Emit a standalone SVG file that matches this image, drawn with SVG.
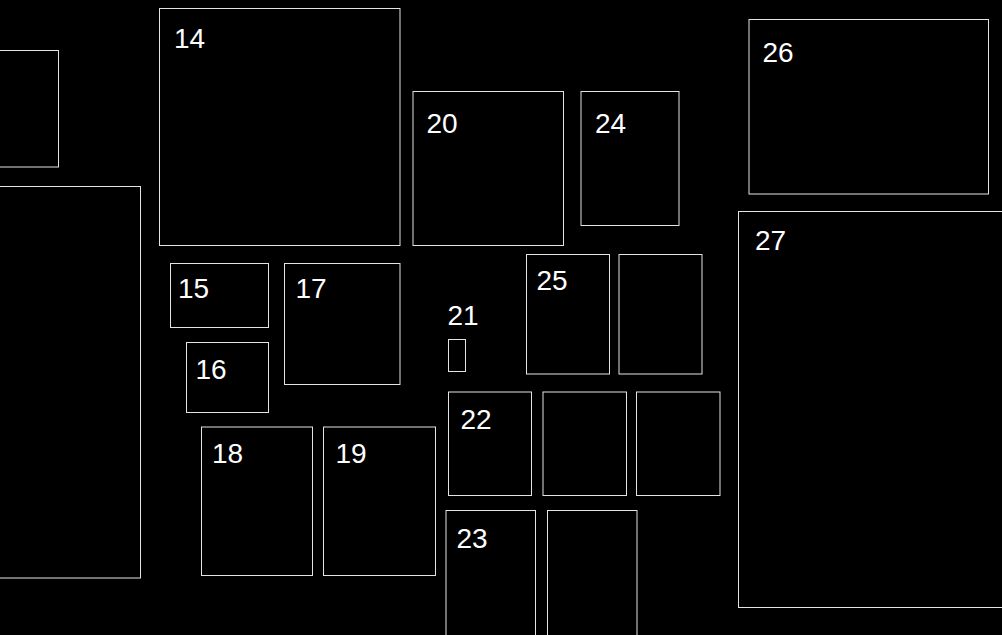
<svg xmlns="http://www.w3.org/2000/svg" width="1002" height="635" viewBox="0 0 1002 635">
<style>
rect.b{fill:none;stroke:#e4e4e4;stroke-width:1}
text{font-family:"Liberation Sans",Arial,sans-serif;font-size:28px;fill:#ffffff}
</style>
<rect x="0" y="0" width="1002" height="635" fill="#000"/>
<g id="n-a"><rect class="b" x="-5" y="50.5" width="63.5" height="116.5"/></g>
<g id="n-b"><rect class="b" x="-5" y="186.5" width="145.5" height="391.5"/></g>
<g id="n14"><rect class="b" x="159.5" y="8.5" width="240.5" height="237"/><text x="174" y="47.5">14</text></g>
<g id="n15"><rect class="b" x="170.5" y="263.5" width="98" height="64"/><text x="178" y="297.5">15</text></g>
<g id="n16"><rect class="b" x="186.5" y="342.5" width="82" height="70"/><text x="195.5" y="379">16</text></g>
<g id="n17"><rect class="b" x="284.5" y="263.5" width="115.5" height="121"/><text x="295.5" y="297.5">17</text></g>
<g id="n18"><rect class="b" x="201.5" y="427" width="111" height="148.5"/><text x="212" y="463">18</text></g>
<g id="n19"><rect class="b" x="323.5" y="427" width="112" height="148.5"/><text x="335.5" y="463">19</text></g>
<g id="n20"><rect class="b" x="413" y="91.5" width="150.5" height="154"/><text x="426.5" y="132.5">20</text></g>
<g id="n21"><rect class="b" x="448.5" y="339.5" width="17" height="32"/><text x="447.5" y="325">21</text></g>
<g id="n22"><rect class="b" x="448.5" y="392" width="83" height="103.5"/><text x="460.5" y="429">22</text></g>
<g id="n22b"><rect class="b" x="543" y="392" width="83.5" height="103.5"/></g>
<g id="n22c"><rect class="b" x="636.5" y="392" width="83.5" height="103.5"/></g>
<g id="n23"><rect class="b" x="446" y="510.5" width="89.5" height="130"/><text x="456.5" y="547.5">23</text></g>
<g id="n23b"><rect class="b" x="547.5" y="510.5" width="89.5" height="130"/></g>
<g id="n24"><rect class="b" x="581" y="91.5" width="98" height="134"/><text x="595" y="132.5">24</text></g>
<g id="n25"><rect class="b" x="526.5" y="254.5" width="83" height="119.5"/><text x="536.5" y="290">25</text></g>
<g id="n25b"><rect class="b" x="619" y="254.5" width="83" height="119.5"/></g>
<g id="n26"><rect class="b" x="749" y="19.5" width="239.5" height="174.5"/><text x="762.5" y="61.5">26</text></g>
<g id="n27"><rect class="b" x="738.5" y="211.5" width="270" height="396"/><text x="755" y="250">27</text></g>
<g id="connectors"></g>
</svg>
